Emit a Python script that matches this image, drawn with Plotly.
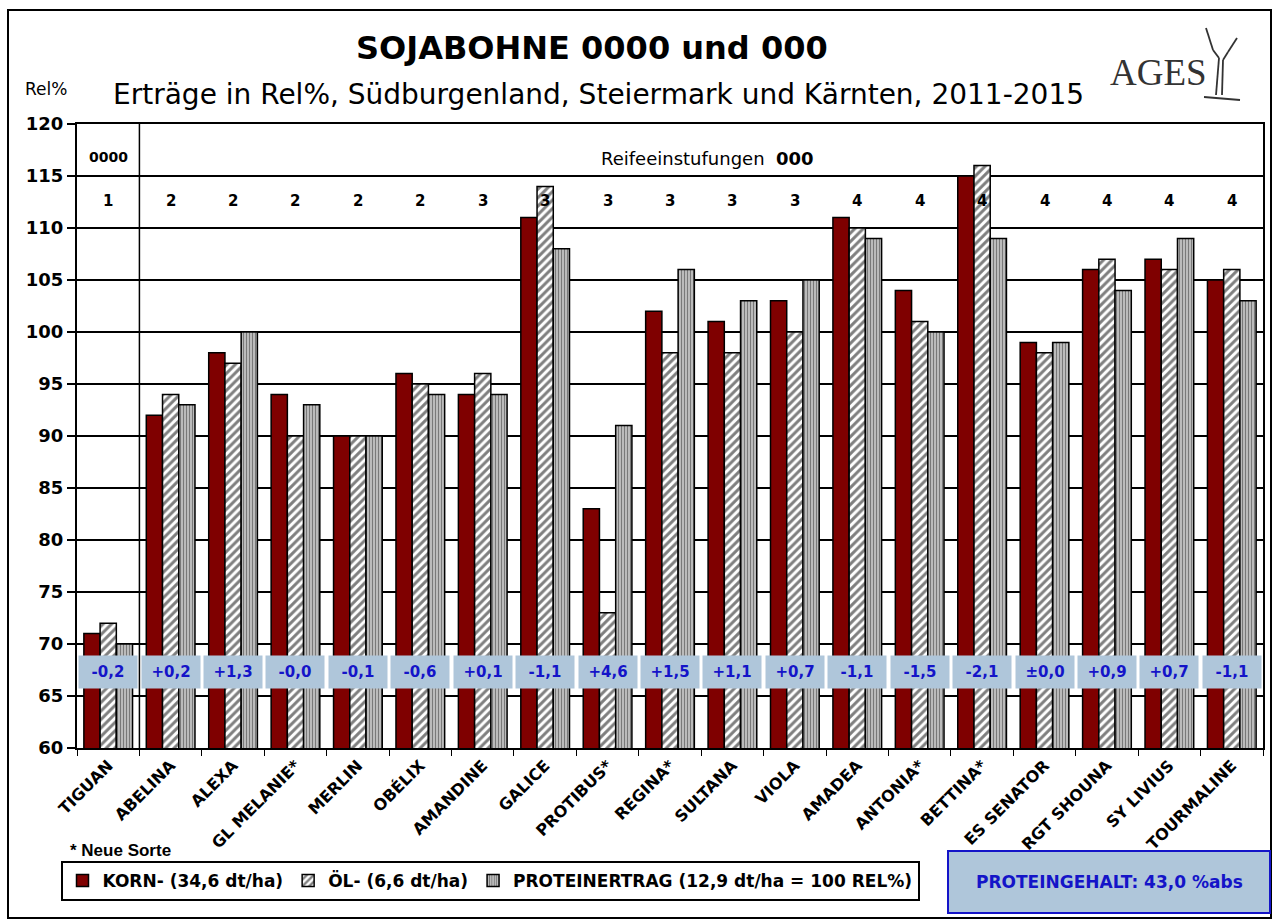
import plotly.graph_objects as go

categories = ["TIGUAN", "ABELINA", "ALEXA", "GL MELANIE*", "MERLIN", "OBÉLIX", "AMANDINE",
              "GALICE", "PROTIBUS*", "REGINA*", "SULTANA", "VIOLA", "AMADEA", "ANTONIA*",
              "BETTINA*", "ES SENATOR", "RGT SHOUNA", "SY LIVIUS", "TOURMALINE"]
korn = [71, 92, 98, 94, 90, 96, 94, 111, 83, 102, 101, 103, 111, 104, 115, 99, 106, 107, 105]
oel = [72, 94, 97, 90, 90, 95, 96, 114, 73, 98, 98, 100, 110, 101, 116, 98, 107, 106, 106]
protein = [70, 93, 100, 93, 90, 94, 94, 108, 91, 106, 103, 105, 109, 100, 109, 99, 104, 109, 103]
reife = [1, 2, 2, 2, 2, 2, 3, 3, 3, 3, 3, 3, 4, 4, 4, 4, 4, 4, 4]
protein_diff = ["-0,2", "+0,2", "+1,3", "-0,0", "-0,1", "-0,6", "+0,1", "-1,1", "+4,6", "+1,5",
                "+1,1", "+0,7", "-1,1", "-1,5", "-2,1", "±0,0", "+0,9", "+0,7", "-1,1"]
series_names = ["KORN- (34,6 dt/ha)", "ÖL- (6,6 dt/ha)", "PROTEINERTRAG (12,9 dt/ha = 100 REL%)"]
y_ticks = [60, 65, 70, 75, 80, 85, 90, 95, 100, 105, 110, 115, 120]

FONT = "DejaVu Sans"
W, H = 1277, 921
L, R, T, B = 77, 14, 124, 173
pw, ph = W - L - R, H - T - B


def px(x, y):
    return (x - L) / pw, (H - y - B) / ph


fig = go.Figure()
fig.add_trace(go.Bar(x=categories, y=korn, name=series_names[0],
                     marker=dict(color="#7f0000", line=dict(color="black", width=1.5))))
fig.add_trace(go.Bar(x=categories, y=oel, name=series_names[1],
                     marker=dict(color="white", line=dict(color="black", width=1.5),
                                 pattern=dict(shape="/", fgcolor="black", bgcolor="white",
                                              size=6, solidity=0.5))))
fig.add_trace(go.Bar(x=categories, y=protein, name=series_names[2],
                     marker=dict(color="white", line=dict(color="black", width=1.5),
                                 pattern=dict(shape="|", fgcolor="#222222", bgcolor="#d0d0d0",
                                              size=3, solidity=0.5))))

annotations = []
for c, r in zip(categories, reife):
    annotations.append(dict(x=c, y=112.6, xref="x", yref="y", text=f"<b>{r}</b>",
                            showarrow=False, font=dict(family=FONT, size=15, color="black")))
for c, d in zip(categories, protein_diff):
    annotations.append(dict(x=c, y=67.3, xref="x", yref="y", text=f"<b>{d}</b>",
                            showarrow=False, bgcolor="#afc6da", width=56, height=30,
                            font=dict(family=FONT, size=15, color="#1414c8")))
annotations += [
    dict(x=0, y=116.8, xref="x", yref="y", text="<b>0000</b>", showarrow=False,
         font=dict(family=FONT, size=14, color="black")),
    dict(x=9.6, y=116.7, xref="x", yref="y", text="Reifeeinstufungen  <b>000</b>", showarrow=False,
         font=dict(family=FONT, size=18, color="black")),
]

paper_texts = [
    (592, 48, "<b>SOJABOHNE 0000 und 000</b>", dict(family=FONT, size=32, color="black"), "center"),
    (598, 95, "Erträge in Rel%, Südburgenland, Steiermark und Kärnten, 2011-2015",
     dict(family=FONT, size=28, color="black"), "center"),
    (46, 89, "Rel%", dict(family=FONT, size=17, color="black"), "center"),
    (1158, 72, "AGES", dict(family="Liberation Serif", size=37, color="#333333"), "center"),
    (68, 850, "<b>* Neue Sorte</b>", dict(family="Liberation Sans", size=17, color="black"), "left"),
    (1109, 882, "<b>PROTEINGEHALT: 43,0 %abs</b>", dict(family=FONT, size=17, color="#1414c8"), "center"),
]
for x, y, t, f, xa in paper_texts:
    ax, ay = px(x, y)
    annotations.append(dict(x=ax, y=ay, xref="paper", yref="paper", text=t, showarrow=False,
                            xanchor=xa, yanchor="middle", font=f))

shapes = []
shapes.append(dict(type="line", xref="x", yref="y", x0=0.5, x1=0.5, y0=60, y1=120,
                   line=dict(color="black", width=1.5)))
x0, y0 = px(8, 918)
x1, y1 = px(1271, 10)
shapes.append(dict(type="rect", xref="paper", yref="paper", x0=x0, y0=y0, x1=x1, y1=y1,
                   line=dict(color="black", width=2), layer="below"))
x0, y0 = px(948, 913)
x1, y1 = px(1270, 851)
shapes.append(dict(type="rect", xref="paper", yref="paper", x0=x0, y0=y0, x1=x1, y1=y1,
                   fillcolor="#afc6da", line=dict(color="#1414c8", width=2), layer="below"))
logo_lines = [((1206, 28), (1213, 50)), ((1213, 50), (1219, 58)), ((1237, 38), (1228, 52)),
              ((1228, 52), (1223, 60)), ((1219, 58), (1216, 95)), ((1223, 60), (1222, 95)),
              ((1204, 97), (1240, 100))]
for (a, b), (c, d) in logo_lines:
    xa, ya = px(a, b)
    xc, yc = px(c, d)
    shapes.append(dict(type="line", xref="paper", yref="paper", x0=xa, y0=ya, x1=xc, y1=yc,
                       line=dict(color="#333333", width=1.8)))

lgx, lgy = px(490, 881)

fig.update_layout(
    width=W, height=H,
    margin=dict(l=L, r=R, t=T, b=B, autoexpand=False),
    paper_bgcolor="white", plot_bgcolor="white",
    barmode="group", bargap=0.22, bargroupgap=0.0,
    font=dict(family=FONT, color="black"),
    showlegend=True,
    legend=dict(orientation="h", x=lgx, y=lgy, xanchor="center", yanchor="middle",
                bordercolor="black", borderwidth=2, bgcolor="white",
                font=dict(family=FONT, size=17, weight="bold", color="black"),
                itemwidth=30, tracegroupgap=0),
    xaxis=dict(type="category", tickangle=-45, ticks="outside", tickson="boundaries",
               ticklen=6, tickcolor="black", showline=True, linecolor="black", linewidth=2,
               mirror=True, tickfont=dict(family=FONT, size=16, weight="bold", color="black"),
               range=[-0.5, 18.5]),
    yaxis=dict(range=[60, 120], tickvals=y_ticks, ticks="outside", ticklen=8,
               tickcolor="black", tickwidth=1.5, showline=True, linecolor="black", linewidth=2,
               mirror=True, showgrid=True, gridcolor="black", gridwidth=1.5,
               tickfont=dict(family=FONT, size=18, weight="bold", color="black")),
    annotations=annotations,
    shapes=shapes,
)

fig.write_html("out.html", config={"displayModeBar": False},
               post_script="document.body.style.margin='0';")
